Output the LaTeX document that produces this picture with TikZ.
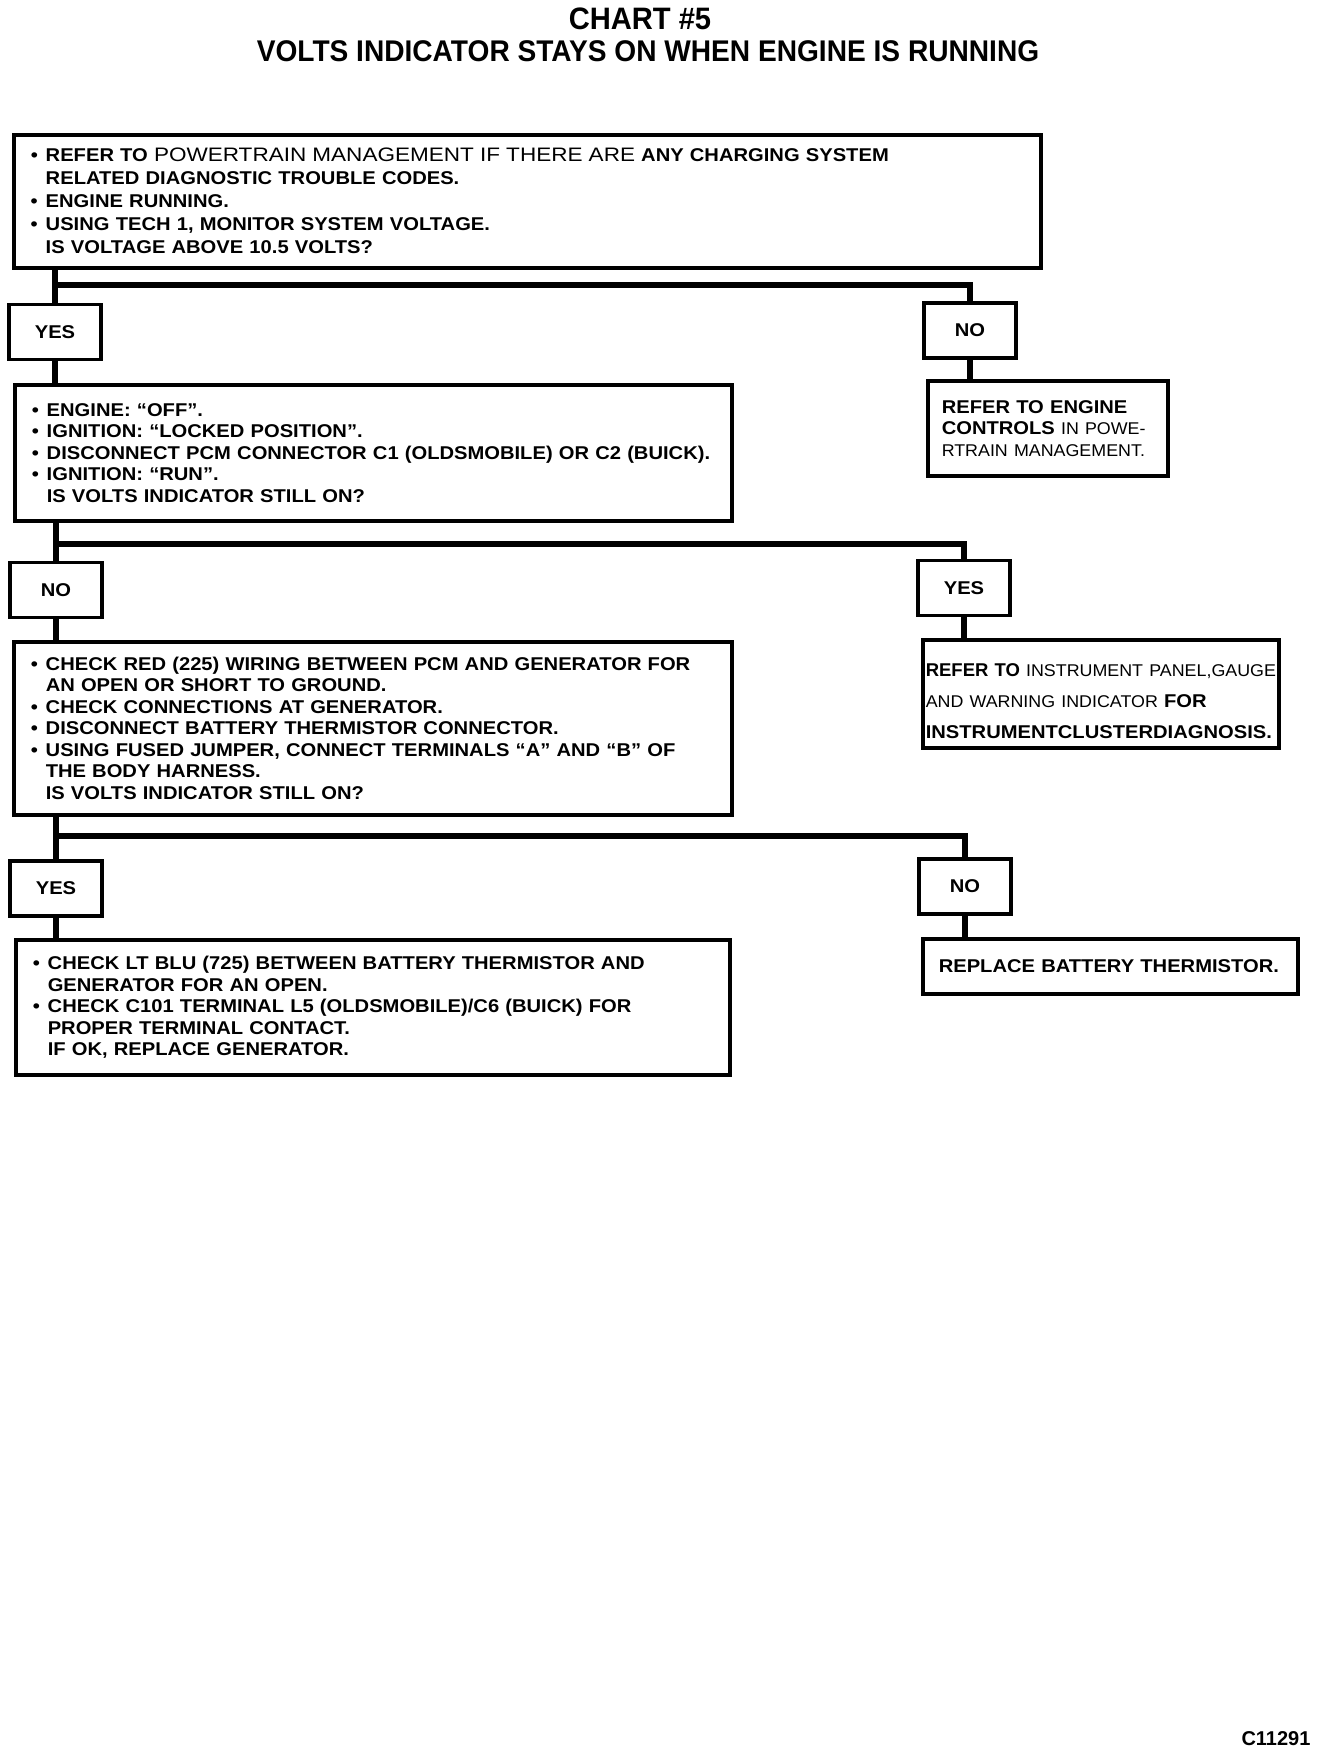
\documentclass[tikz,border=0pt]{standalone}
\usepackage{fontspec}
\setmainfont{Liberation Sans}
\newfontfamily\headfont{Liberation Sans}[FakeStretch=0.94]
\newfontfamily\boxfont{Liberation Sans}[FakeStretch=1.09]
\newfontfamily\litefont{Liberation Sans}[FakeStretch=1.05]
\newfontfamily\widefont{Liberation Sans}[FakeStretch=1.155]
\newcommand\bul{\makebox[15pt][l]{\textbullet}}
\newcommand\ind{\hspace*{15pt}}
\newcommand\lite[1]{{\litefont\mdseries\fontsize{17}{21.5}\selectfont #1}}
\newcommand\litebig[1]{{\widefont\mdseries\fontsize{19.5}{23}\selectfont #1}}
\newcommand\plainbold[1]{{\normalfont\bfseries #1}}

\tikzset{
  stepbox/.style={draw, line width=3.5pt, anchor=north west, align=left,
    inner xsep=17pt, inner ysep=0pt,
    font=\boxfont\bfseries\fontsize{18.5}{21.5}\selectfont},
  ansbox/.style={draw, line width=3.5pt, minimum width=92pt, minimum height=55pt,
    inner sep=0pt, font=\boxfont\bfseries\fontsize{18.5}{21.5}\selectfont},
  wire/.style={line width=6pt}
}

\begin{document}
\begin{tikzpicture}[x=1pt,y=-1pt]
\useasboundingbox (0,0) rectangle (1328,1754);

\node[font=\headfont\bfseries\fontsize{31}{31}\selectfont] (chart) at (640,18.5) {CHART \#5};
\node[font=\headfont\bfseries\fontsize{29.9}{29.9}\selectfont] (title) at (648,51) {VOLTS INDICATOR STAYS ON WHEN ENGINE IS RUNNING};

\node[stepbox, minimum width=1027pt, minimum height=133pt, text width=993pt,
  font=\boxfont\bfseries\fontsize{18.5}{23}\selectfont] (volt) at (12,133) {%
\bul REFER TO \litebig{POWERTRAIN MANAGEMENT IF THERE ARE} ANY CHARGING SYSTEM\\
\ind RELATED DIAGNOSTIC TROUBLE CODES.\\
\bul ENGINE RUNNING.\\
\bul USING TECH 1, MONITOR SYSTEM VOLTAGE.\\
\ind IS VOLTAGE ABOVE 10.5 VOLTS?};

\node[ansbox] (yes1) at (55,332) {YES};
\node[ansbox] (no1) at (970,330.5) {NO};

\node[stepbox, minimum width=717pt, minimum height=136pt, text width=683pt] (pcm) at (13,383) {%
\bul ENGINE: “OFF”.\\
\bul IGNITION: “LOCKED POSITION”.\\
\bul DISCONNECT PCM CONNECTOR C1 (OLDSMOBILE) OR C2 (BUICK).\\
\bul IGNITION: “RUN”.\\
\ind IS VOLTS INDICATOR STILL ON?};

\node[stepbox, minimum width=240pt, minimum height=95pt, text width=212pt, inner xsep=14pt] (engine) at (926,379) {%
REFER TO ENGINE\\
CONTROLS \lite{IN POWE-}\\
\lite{RTRAIN MANAGEMENT.}};

\node[ansbox] (no2) at (56,590) {NO};
\node[ansbox] (yes2) at (964,588) {YES};

\node[stepbox, minimum width=718pt, minimum height=173pt, text width=684pt] (wiring) at (12,640) {%
\bul CHECK RED (225) WIRING BETWEEN PCM AND GENERATOR FOR\\
\ind AN OPEN OR SHORT TO GROUND.\\
\bul CHECK CONNECTIONS AT GENERATOR.\\
\bul DISCONNECT BATTERY THERMISTOR CONNECTOR.\\
\bul USING FUSED JUMPER, CONNECT TERMINALS “A” AND “B” OF\\
\ind THE BODY HARNESS.\\
\ind IS VOLTS INDICATOR STILL ON?};

\node[stepbox, minimum width=356pt, minimum height=108pt, text width=350pt, inner xsep=3pt,
  font=\boxfont\bfseries\fontsize{18.5}{31}\selectfont] (cluster) at (921,638) {%
\mbox{\rule{0pt}{27pt}\plainbold{REFER TO} \lite{INSTRUMENT PANEL,GAUGE}}\\
\mbox{\lite{AND WARNING INDICATOR} FOR}\\
\mbox{INSTRUMENTCLUSTERDIAGNOSIS.}};

\node[ansbox] (yes3) at (56,888.5) {YES};
\node[ansbox] (no3) at (965,886.5) {NO};

\node[stepbox, minimum width=714pt, minimum height=135pt, text width=680pt] (thermistor) at (14,938) {%
\bul CHECK LT BLU (725) BETWEEN BATTERY THERMISTOR AND\\
\ind GENERATOR FOR AN OPEN.\\
\bul CHECK C101 TERMINAL L5 (OLDSMOBILE)/C6 (BUICK) FOR\\
\ind PROPER TERMINAL CONTACT.\\
\ind IF OK, REPLACE GENERATOR.};

\node[stepbox, minimum width=375pt, minimum height=55pt, text width=343pt, inner xsep=16pt] (replace) at (921,937) {%
REPLACE BATTERY THERMISTOR.};

\node[anchor=south east, font=\bfseries\fontsize{20}{20}\selectfont] (code) at (1314,1749) {C11291};

\coordinate (fork1) at (0,285);
\coordinate (fork2) at (0,544);
\coordinate (fork3) at (0,836);

\draw[wire] (volt.south -| yes1) -- (yes1.north);
\draw[wire] (fork1 -| yes1) -| (no1.north);
\draw[wire] (yes1.south) -- (yes1.south |- pcm.north);
\draw[wire] (no1.south) -- (no1.south |- engine.north);

\draw[wire] (pcm.south -| no2) -- (no2.north);
\draw[wire] (fork2 -| no2) -| (yes2.north);
\draw[wire] (no2.south) -- (no2.south |- wiring.north);
\draw[wire] (yes2.south) -- (yes2.south |- cluster.north);

\draw[wire] (wiring.south -| yes3) -- (yes3.north);
\draw[wire] (fork3 -| yes3) -| (no3.north);
\draw[wire] (yes3.south) -- (yes3.south |- thermistor.north);
\draw[wire] (no3.south) -- (no3.south |- replace.north);
\end{tikzpicture}
\end{document}
